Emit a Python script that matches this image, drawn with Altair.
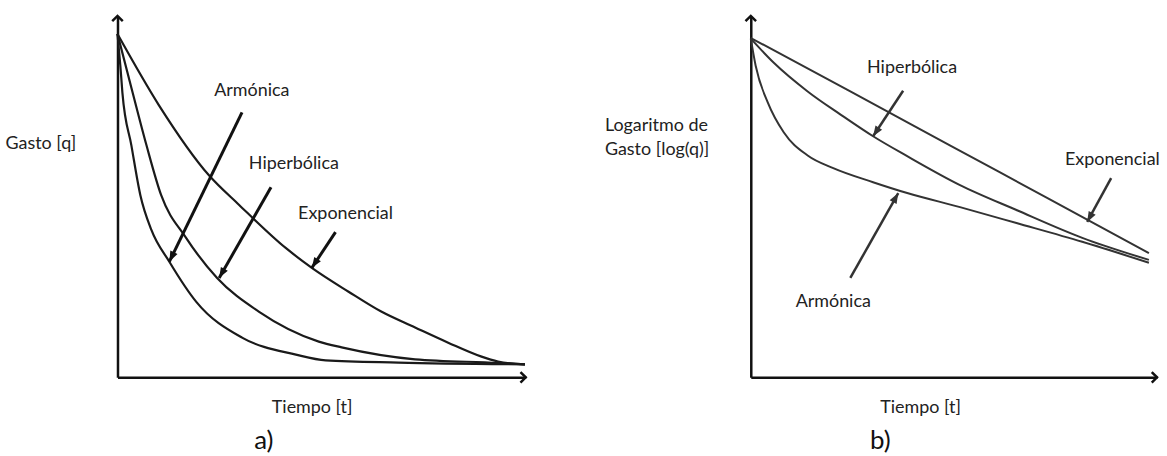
import math
import altair as alt
import pandas as pd

# ---- Panel a): rate q versus time t (both axes 0-10, no tick labels) ----
t_exp_a = [0, 1.02, 2.24, 2.98, 4.12, 4.76, 5.66, 6.46, 7.29, 8.10, 8.90, 9.32, 9.98]
q_exp_a = [9.50, 7.52, 5.59, 4.77, 3.58, 3.03, 2.37, 1.82, 1.38, 0.96, 0.58, 0.44, 0.36]

t_hip_a = [0, 0.37, 0.71, 1.07, 1.68, 2.44, 3.46, 4.93, 5.49, 7.29, 9.32, 9.98]
q_hip_a = [9.50, 7.88, 6.42, 5.04, 3.86, 2.75, 1.82, 0.99, 0.83, 0.50, 0.40, 0.36]

t_arm_a = [0, 0.07, 0.12, 0.34, 0.56, 0.83, 1.27, 1.93, 3.05, 4.37, 5.10, 6.88, 9.98]
q_arm_a = [9.50, 8.62, 7.88, 6.42, 5.04, 4.08, 3.20, 2.09, 1.10, 0.63, 0.47, 0.41, 0.36]

# ---- Panel b): log(q) versus time t ----
t_exp_b = [0, 2.45, 4.90, 7.35, 9.80]
q_exp_b = [9.39, 7.91, 6.42, 4.93, 3.44]

t_hip_b = [0, 0.56, 1.40, 2.21, 3.01, 3.85, 5.15, 6.54, 8.16, 9.80]
q_hip_b = [9.37, 8.71, 7.91, 7.27, 6.67, 6.12, 5.32, 4.63, 3.86, 3.25]

t_arm_b = [0, 0.12, 0.42, 0.81, 1.40, 2.03, 3.01, 3.85, 5.15, 6.54, 8.16, 9.80]
q_arm_b = [9.37, 8.62, 7.60, 6.78, 6.14, 5.79, 5.40, 5.10, 4.71, 4.27, 3.75, 3.17]

# Curve labels: text, position of the text, arrow start and arrow tip
lab_names = ["Armónica", "Hiperbólica", "Exponencial"]
lab_t_a = [3.29, 4.32, 5.585]
lab_q_a = [7.93, 5.90, 4.52]
arr_t1_a = [3.05, 3.76, 5.34]
arr_q1_a = [7.33, 5.26, 4.02]
arr_t2_a = [1.27, 2.49, 4.76]
arr_q2_a = [3.20, 2.75, 3.03]

lab_t_b = [2.03, 3.97, 8.90]
lab_q_b = [2.09, 8.57, 6.01]
arr_t1_b = [2.45, 3.75, 8.87]
arr_q1_b = [2.75, 7.93, 5.51]
arr_t2_b = [3.63, 3.01, 8.28]
arr_q2_b = [5.10, 6.67, 4.30]

PLOT_H = 363
FONT = "Lato"
FS = 18
HEAD = "M0,0L-0.38,1L0.38,1Z"          # filled arrowhead, apex at the anchor
CHEV_UP = "M-0.75,0.75L0,0L0.75,0.75"  # open axis arrowheads
CHEV_RIGHT = "M-0.75,-0.75L0,0L-0.75,0.75"


def curves_frame(pairs):
    rows = []
    for name, ts, qs in pairs:
        for i, (t, q) in enumerate(zip(ts, qs)):
            rows.append({"curve": name, "t": t, "q": q, "i": i})
    return pd.DataFrame(rows)


def arrows_frame(t1, q1, t2, q2, width):
    rows = []
    for a, b, c, d in zip(t1, q1, t2, q2):
        dx = (c - a) * width / 10
        dy = -(d - b) * PLOT_H / 10
        ang = math.degrees(math.atan2(dx, -dy)) % 360
        rows.append({"t1": a, "q1": b, "t2": c, "q2": d, "ang": ang})
    return pd.DataFrame(rows)


def panel(curves, lab_t, lab_q, t1, q1, t2, q2, ytitle, ytx, yty, xtx,
          tag, tag_dx, width, line_color, line_w, arr_color, arr_w):
    x_axis = alt.Axis(ticks=False, labels=False, grid=False, domainColor="#111",
                      domainWidth=2.5, title="Tiempo [t]", titleFont=FONT,
                      titleFontSize=FS, titleFontWeight="normal", titleColor="#222",
                      titleX=xtx, titleY=30, titleAlign="center", titleBaseline="middle")
    y_axis = alt.Axis(ticks=False, labels=False, grid=False, domainColor="#111",
                      domainWidth=2.5, title=ytitle, titleFont=FONT,
                      titleFontSize=FS, titleFontWeight="normal", titleColor="#222",
                      titleAngle=0, titleX=ytx, titleY=yty, titleAlign="left",
                      titleBaseline="alphabetic", titleLineHeight=24)
    xs = alt.Scale(domain=[0, 10], nice=False, zero=False)
    ys = alt.Scale(domain=[0, 10], nice=False, zero=False)

    base_curves = alt.Chart(curves).mark_line(
        interpolate="monotone", color=line_color, strokeWidth=line_w
    ).encode(
        x=alt.X("t:Q", scale=xs, axis=x_axis),
        y=alt.Y("q:Q", scale=ys, axis=y_axis),
        detail="curve:N",
        order="i:Q",
    )

    labels = pd.DataFrame({"name": lab_names, "t": lab_t, "q": lab_q})
    text = alt.Chart(labels).mark_text(
        font=FONT, fontSize=FS, color="#222", align="center", baseline="middle"
    ).encode(
        x=alt.X("t:Q", scale=xs, axis=x_axis),
        y=alt.Y("q:Q", scale=ys, axis=y_axis),
        text="name:N",
    )

    arr = arrows_frame(t1, q1, t2, q2, width)
    shafts = alt.Chart(arr).mark_rule(color=arr_color, strokeWidth=arr_w).encode(
        x=alt.X("t1:Q", scale=xs, axis=x_axis),
        y=alt.Y("q1:Q", scale=ys, axis=y_axis),
        x2="t2:Q",
        y2="q2:Q",
    )
    heads = alt.Chart(arr).mark_point(
        shape=HEAD, filled=True, color=arr_color, size=440, opacity=1
    ).encode(
        x=alt.X("t2:Q", scale=xs, axis=x_axis),
        y=alt.Y("q2:Q", scale=ys, axis=y_axis),
        angle=alt.Angle("ang:Q", scale=None),
    )

    tip_up = alt.Chart(pd.DataFrame({"t": [0], "q": [10]})).mark_point(
        shape=CHEV_UP, filled=False, color="#111", strokeWidth=2.5, size=200, opacity=1
    ).encode(x=alt.X("t:Q", scale=xs, axis=x_axis), y=alt.Y("q:Q", scale=ys, axis=y_axis))
    tip_right = alt.Chart(pd.DataFrame({"t": [10], "q": [0]})).mark_point(
        shape=CHEV_RIGHT, filled=False, color="#111", strokeWidth=2.5, size=200, opacity=1
    ).encode(x=alt.X("t:Q", scale=xs, axis=x_axis), y=alt.Y("q:Q", scale=ys, axis=y_axis))

    return alt.layer(base_curves, shafts, heads, text, tip_up, tip_right).properties(
        width=width,
        height=PLOT_H,
        title=alt.TitleParams(tag, orient="bottom", anchor="middle", frame="group",
                              dx=tag_dx, offset=12, font=FONT, fontSize=26,
                              fontWeight="normal", color="#111"),
    )


curves_a = curves_frame([("Exponencial", t_exp_a, q_exp_a),
                         ("Hiperbólica", t_hip_a, q_hip_a),
                         ("Armónica", t_arm_a, q_arm_a)])
curves_b = curves_frame([("Exponencial", t_exp_b, q_exp_b),
                         ("Hiperbólica", t_hip_b, q_hip_b),
                         ("Armónica", t_arm_b, q_arm_b)])

left = panel(curves_a, lab_t_a, lab_q_a, arr_t1_a, arr_q1_a, arr_t2_a, arr_q2_a,
             "Gasto [q]", -113, 133, 195, "a)", -58, 410, "#1a1a1a", 2.2, "#111", 3)
right = panel(curves_b, lab_t_b, lab_q_b, arr_t1_b, arr_q1_b, arr_t2_b, arr_q2_b,
              ["Logaritmo de", "Gasto [log(q)]"], -147, 115, 170, "b)", -74, 408,
              "#333", 2.0, "#333", 2.5)

chart = alt.hconcat(left, right, spacing=74).properties(
    padding={"left": 5, "top": 10, "right": 5, "bottom": 5},
    background="white",
).configure_view(stroke=None)

chart.save("out.html", embed_options={"renderer": "svg", "actions": False})
